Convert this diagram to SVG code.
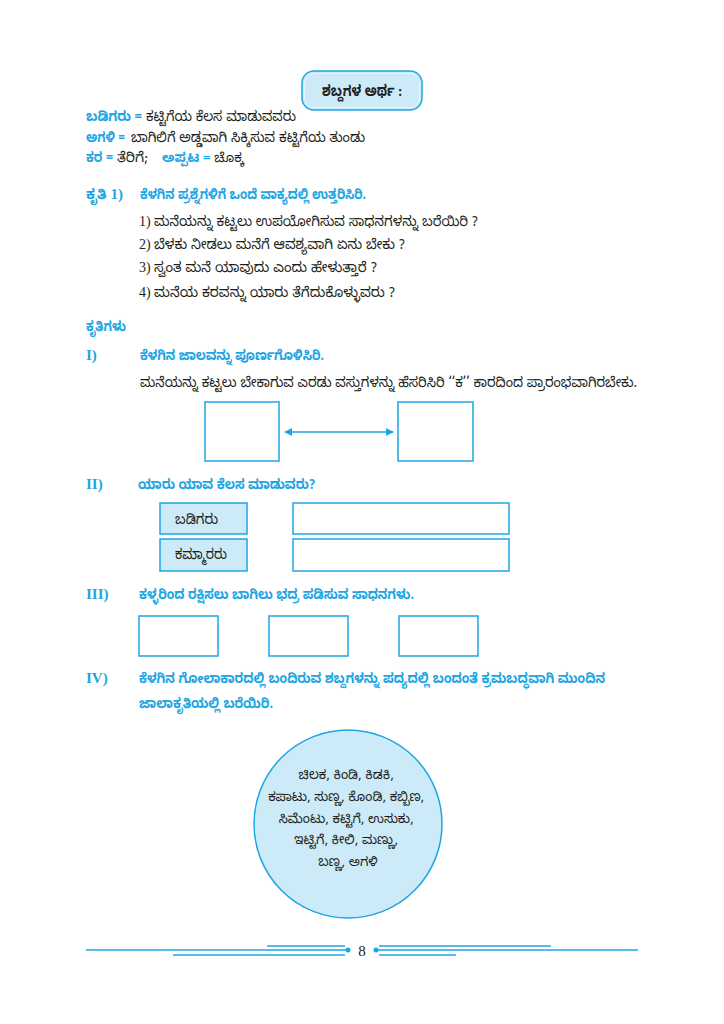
<svg xmlns="http://www.w3.org/2000/svg" width="724" height="1024" viewBox="0 0 724 1024">
<style>
.t{font-family:"Noto Sans Kannada","Noto Sans",sans-serif;font-size:14px;fill:#231f20}
.b{font-family:"Noto Sans Kannada","Noto Sans",sans-serif;font-size:14px;font-weight:bold;fill:#1ea5e3}
.h{font-family:"Noto Sans Kannada","Noto Sans",sans-serif;font-size:15px;font-weight:bold;fill:#231f20}
.lb{font-family:"Noto Sans Kannada","Noto Sans",sans-serif;font-size:14.5px;fill:#231f20}
.n{font-family:"Liberation Serif",serif;font-size:14px;fill:#231f20}
.r{font-family:"Liberation Serif",serif;font-size:15px;font-weight:bold;fill:#1ea5e3}
.box{fill:#ffffff;stroke:#1ea5e3;stroke-width:1.5}
.lbox{fill:#cdeaf8;stroke:#1ea5e3;stroke-width:1.5}
.ln{stroke:#1ea5e3;stroke-width:1.5;fill:none}
</style>
<defs>
<marker id="ah" viewBox="0 0 10 10" refX="9" refY="5" markerWidth="5.5" markerHeight="5.5" orient="auto-start-reverse">
<path d="M0,0 L10,5 L0,10 z" fill="#1ea5e3"/>
</marker>
</defs>
<rect width="724" height="1024" fill="#ffffff"/>

<g id="header">
<rect x="302" y="71" width="120" height="39" rx="12" fill="#cdeaf8" stroke="#1ea5e3" stroke-width="1.5"/>
<rect x="304.5" y="73.5" width="115" height="34" rx="10" fill="none" stroke="#e6f5fc" stroke-width="1"/>
<text class="h" x="322" y="96" textLength="80" lengthAdjust="spacingAndGlyphs">ಶಬ್ದಗಳ ಅರ್ಥ :</text>
</g>

<g id="vocab">
<text class="b" x="86" y="121" textLength="56" lengthAdjust="spacingAndGlyphs">ಬಡಿಗರು =</text>
<text class="t" x="146" y="121" textLength="150" lengthAdjust="spacingAndGlyphs">ಕಟ್ಟಿಗೆಯ ಕೆಲಸ ಮಾಡುವವರು</text>
<text class="b" x="86" y="142" textLength="39" lengthAdjust="spacingAndGlyphs">ಅಗಳಿ =</text>
<text class="t" x="131" y="142" textLength="234" lengthAdjust="spacingAndGlyphs">ಬಾಗಿಲಿಗೆ ಅಡ್ಡವಾಗಿ ಸಿಕ್ಕಿಸುವ ಕಟ್ಟಿಗೆಯ ತುಂಡು</text>
<text class="b" x="86" y="162" textLength="27" lengthAdjust="spacingAndGlyphs">ಕರ =</text>
<text class="t" x="117" y="162" textLength="31" lengthAdjust="spacingAndGlyphs">ತೆರಿಗೆ;</text>
<text x="162" y="162" style="font-size:13px"><tspan class="b" style="font-size:13px">ಅಪ್ಪಟ =</tspan><tspan class="t" style="font-size:13px"> ಚೊಕ್ಕ</tspan></text>
</g>

<g id="kruti1">
<text class="b" x="86" y="199">ಕೃತಿ <tspan class="r">1)</tspan></text>
<text class="b" x="140" y="199" textLength="226" lengthAdjust="spacingAndGlyphs">ಕೆಳಗಿನ ಪ್ರಶ್ನೆಗಳಿಗೆ ಒಂದೆ ವಾಕ್ಯದಲ್ಲಿ ಉತ್ತರಿಸಿರಿ.</text>
<text class="n" x="139" y="226">1)</text>
<text class="t" x="154" y="226" textLength="324" lengthAdjust="spacingAndGlyphs">ಮನೆಯನ್ನು ಕಟ್ಟಲು ಉಪಯೋಗಿಸುವ ಸಾಧನಗಳನ್ನು ಬರೆಯಿರಿ ?</text>
<text class="n" x="139" y="249">2)</text>
<text class="t" x="154" y="249" textLength="251" lengthAdjust="spacingAndGlyphs">ಬೆಳಕು ನೀಡಲು ಮನೆಗೆ ಆವಶ್ಯವಾಗಿ ಏನು ಬೇಕು ?</text>
<text class="n" x="139" y="272">3)</text>
<text class="t" x="154" y="272" textLength="223" lengthAdjust="spacingAndGlyphs">ಸ್ವಂತ ಮನೆ ಯಾವುದು ಎಂದು ಹೇಳುತ್ತಾರೆ ?</text>
<text class="n" x="139" y="297">4)</text>
<text class="t" x="154" y="297" textLength="241" lengthAdjust="spacingAndGlyphs">ಮನೆಯ ಕರವನ್ನು ಯಾರು ತೆಗೆದುಕೊಳ್ಳುವರು ?</text>
</g>

<g id="krutigalu">
<text class="b" x="86" y="331" textLength="40" lengthAdjust="spacingAndGlyphs">ಕೃತಿಗಳು</text>
</g>

<g id="sec1">
<text class="r" x="86" y="360">I)</text>
<text class="b" x="140" y="360" textLength="184" lengthAdjust="spacingAndGlyphs">ಕೆಳಗಿನ ಜಾಲವನ್ನು ಪೂರ್ಣಗೊಳಿಸಿರಿ.</text>
<text class="t" x="140" y="387" textLength="497" lengthAdjust="spacingAndGlyphs">ಮನೆಯನ್ನು ಕಟ್ಟಲು ಬೇಕಾಗುವ ಎರಡು ವಸ್ತುಗಳನ್ನು ಹೆಸರಿಸಿರಿ ‘‘ಕ’’ ಕಾರದಿಂದ ಪ್ರಾರಂಭವಾಗಿರಬೇಕು.</text>
</g>
<g id="box1a"><rect class="box" x="205" y="402" width="74" height="59"/></g>
<g id="box1b"><rect class="box" x="398" y="402" width="75" height="59"/></g>

<g id="sec2">
<text class="r" x="86" y="489">II)</text>
<text class="b" x="138" y="489" textLength="177" lengthAdjust="spacingAndGlyphs">ಯಾರು ಯಾವ ಕೆಲಸ ಮಾಡುವರು?</text>
</g>
<g id="badigaru"><rect class="lbox" x="160" y="503" width="87" height="31"/><text class="lb" x="175" y="524" textLength="43" lengthAdjust="spacingAndGlyphs">ಬಡಿಗರು</text></g>
<g id="kammararu"><rect class="lbox" x="160" y="539" width="87" height="32"/><text class="lb" x="175" y="559" textLength="52" lengthAdjust="spacingAndGlyphs">ಕಮ್ಮಾರರು</text></g>
<g id="ans2a"><rect class="box" x="293" y="503" width="216" height="31"/></g>
<g id="ans2b"><rect class="box" x="293" y="539" width="216" height="32"/></g>

<g id="sec3">
<text class="r" x="86" y="599">III)</text>
<text class="b" x="139" y="599" textLength="275" lengthAdjust="spacingAndGlyphs">ಕಳ್ಳರಿಂದ ರಕ್ಷಿಸಲು ಬಾಗಿಲು ಭದ್ರ ಪಡಿಸುವ ಸಾಧನಗಳು.</text>
</g>
<g id="box3a"><rect class="box" x="139" y="616" width="79" height="40"/></g>
<g id="box3b"><rect class="box" x="269" y="616" width="79" height="40"/></g>
<g id="box3c"><rect class="box" x="399" y="616" width="79" height="40"/></g>

<g id="sec4">
<text class="r" x="86" y="683">IV)</text>
<text class="b" x="139" y="683" textLength="466" lengthAdjust="spacingAndGlyphs">ಕೆಳಗಿನ ಗೋಲಾಕಾರದಲ್ಲಿ ಬಂದಿರುವ ಶಬ್ದಗಳನ್ನು ಪದ್ಯದಲ್ಲಿ ಬಂದಂತೆ ಕ್ರಮಬದ್ಧವಾಗಿ ಮುಂದಿನ</text>
<text class="b" x="139" y="708" textLength="134" lengthAdjust="spacingAndGlyphs">ಜಾಲಾಕೃತಿಯಲ್ಲಿ ಬರೆಯಿರಿ.</text>
</g>

<g id="circle">
<circle cx="348" cy="824" r="94" fill="#cdeaf8" stroke="#1ea5e3" stroke-width="1.5"/>
<text class="t" text-anchor="middle" style="font-size:13px">
<tspan x="348" y="779">ಚಿಲಕ, ಕಿಂಡಿ, ಕಿಡಕಿ,</tspan>
<tspan x="348" y="801">ಕಪಾಟು, ಸುಣ್ಣ, ಕೊಂಡಿ, ಕಬ್ಬಿಣ,</tspan>
<tspan x="348" y="823">ಸಿಮೆಂಟು, ಕಟ್ಟಿಗೆ, ಉಸುಕು,</tspan>
<tspan x="348" y="844">ಇಟ್ಟಿಗೆ, ಕೀಲಿ, ಮಣ್ಣು,</tspan>
<tspan x="348" y="866">ಬಣ್ಣ, ಅಗಳಿ</tspan>
</text>
</g>

<g id="connectors">
<line class="ln" x1="285" y1="432" x2="393" y2="432" marker-start="url(#ah)" marker-end="url(#ah)"/>
</g>

<g id="footer">
<line class="ln" x1="86" y1="950" x2="346" y2="950"/>
<line class="ln" x1="267" y1="946" x2="345" y2="946" stroke-width="1"/>
<line class="ln" x1="173" y1="955" x2="345" y2="955" stroke-width="1"/>
<circle cx="348" cy="950" r="2.5" fill="#1ea5e3"/>
<text x="362" y="956" text-anchor="middle" font-family="Liberation Serif, serif" font-size="15" fill="#231f20">8</text>
<circle cx="376" cy="950" r="2.5" fill="#1ea5e3"/>
<line class="ln" x1="378" y1="950" x2="638" y2="950"/>
<line class="ln" x1="379" y1="946" x2="551" y2="946" stroke-width="1"/>
<line class="ln" x1="379" y1="955" x2="456" y2="955" stroke-width="1"/>
</g>
</svg>
